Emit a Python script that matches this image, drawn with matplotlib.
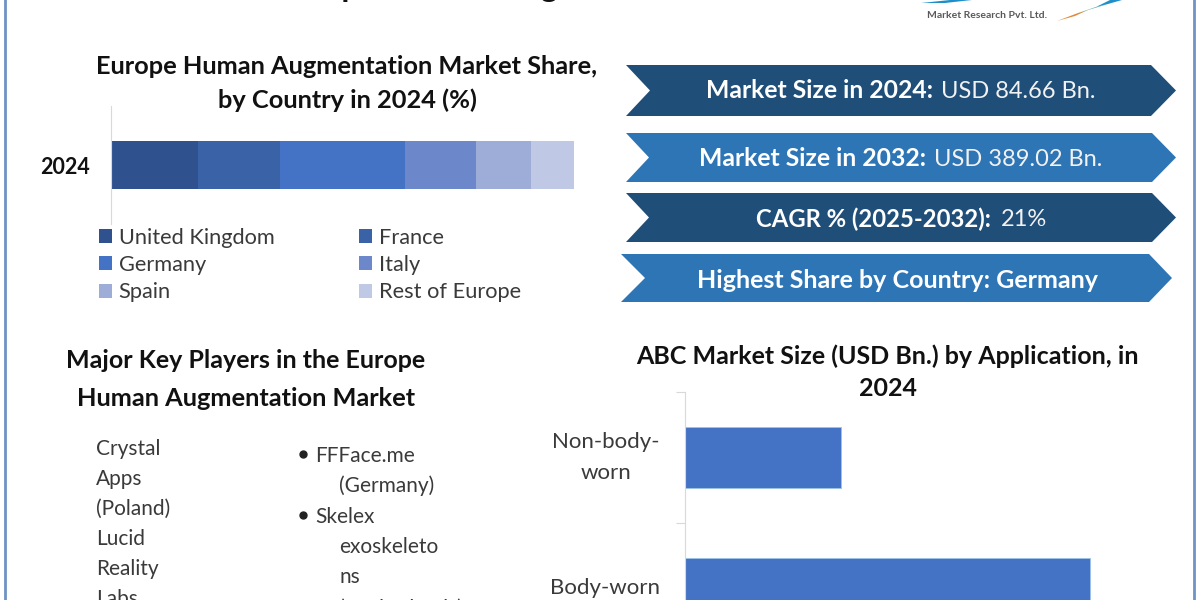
import matplotlib
matplotlib.use("Agg")
import matplotlib.pyplot as plt
from matplotlib.patches import Polygon

plt.rcParams["font.family"] = ["Lato", "DejaVu Sans"]

countries = ["United Kingdom", "France", "Germany", "Italy", "Spain", "Rest of Europe"]
country_share = [18.7, 17.8, 27.0, 15.3, 11.9, 9.3]
country_colors = ["#2F528F", "#3A62A7", "#4472C4", "#6D88CA", "#9EADD8", "#BFC8E4"]
share_year = ["2024"]

applications = ["Non-body-\nworn", "Body-worn"]
application_size = [23.54, 61.12]

banner_bold = ["Market Size in 2024:", "Market Size in 2032:", "CAGR % (2025-2032):",
               "Highest Share by Country: Germany"]
banner_plain = ["USD 84.66 Bn.", "USD 389.02 Bn.", "21%", ""]

players_left = ["Crystal", "Apps", "(Poland)", "Lucid", "Reality", "Labs"]
players_right = ["FFFace.me", "(Germany)", "Skelex", "exoskeleto", "ns", "(Netherlands)"]

DARK = "#1F4E79"
LIGHT = "#2E75B6"
INK = "#111111"
BODY = "#3A3A3A"
AXIS = "#D9D9D9"

W, H = 1200, 600
fig = plt.figure(figsize=(12, 6), dpi=100, facecolor="white")


def axes_px(left, top, right, bottom):
    return fig.add_axes([left / W, (H - bottom) / H, (right - left) / W, (bottom - top) / H])


# page layer, in pixels from the top left corner
page = axes_px(0, 0, W, H)
page.set_xlim(0, W)
page.set_ylim(H, 0)
page.axis("off")

page.plot([5, 5], [0, 600], color="#6F93C4", lw=2)
page.plot([1193.5, 1193.5], [0, 600], color="#6F93C4", lw=2)

# title and logo are cut off by the top edge
page.text(548, -2.5, "Europe Human Augmentation Market", fontsize=23.6, fontweight="bold",
          color=INK, ha="center", va="baseline")
page.text(987, 15.5, "Market Research Pvt. Ltd.", fontsize=7.5, color="#595959",
          fontweight="bold", ha="center", va="center")
page.add_patch(Polygon([(921, 3), (945, 3), (972, 0), (950, 0)], color="#1F8FC9", lw=0))
page.add_patch(Polygon([(1057, 21), (1075, 16), (1088, 10), (1078, 13)], color="#E08A3C", lw=0))
page.add_patch(Polygon([(1078, 13), (1088, 10), (1108, 4), (1096, 7)], color="#3BA89A", lw=0))
page.add_patch(Polygon([(1096, 7), (1108, 4), (1122, 0), (1110, 0)], color="#1F8FC9", lw=0))

# chevron banners
banners = [
    (626, 650, 1151, 1176, 65, 116, DARK, 706, 941, 91, 17.8),
    (626, 649, 1152, 1176, 133, 182, LIGHT, 699, 934, 159, 17.8),
    (626, 649, 1152, 1176, 193, 242, DARK, 756, 1001, 219, 17.2),
    (621, 645, 1149, 1172, 254, 302, LIGHT, 697, 0, 280, 18),
]
for (x0, notch, shoulder, tip, top, bottom, color, bold_x, plain_x, text_y, size), bold, plain in zip(
        banners, banner_bold, banner_plain):
    mid = (top + bottom) / 2
    page.add_patch(Polygon([(x0, top), (shoulder, top), (tip, mid), (shoulder, bottom),
                            (x0, bottom), (notch, mid)], color=color, lw=0))
    page.text(bold_x, text_y, bold, fontsize=size, fontweight="bold", color="white",
              ha="left", va="center")
    if plain:
        page.text(plain_x, text_y, plain, fontsize=17, color="#F2F2F2", ha="left", va="center")

# section titles
page.text(347, 67, "Europe Human Augmentation Market Share,", fontsize=18.3, fontweight="bold",
          color=INK, ha="center", va="center")
page.text(347, 100, "by Country in 2024 (%)", fontsize=18.3, fontweight="bold",
          color=INK, ha="center", va="center")
page.text(246, 360, "Major Key Players in the Europe", fontsize=18, fontweight="bold",
          color=INK, ha="center", va="center")
page.text(246, 399, "Human Augmentation Market", fontsize=18.3, fontweight="bold",
          color=INK, ha="center", va="center")
page.text(887, 356, "ABC Market Size (USD Bn.) by Application, in", fontsize=18, fontweight="bold",
          color=INK, ha="center", va="center")
page.text(888, 389, "2024", fontsize=18, fontweight="bold", color=INK, ha="center", va="center")

# key players
for name, y in zip(players_left, [449, 479, 509, 539, 569, 599]):
    page.text(96, y, name, fontsize=15, color=BODY, ha="left", va="center")
for name, y, x in zip(players_right, [456, 486, 517, 547, 577, 609],
                      [315, 339.5, 315, 339.5, 339.5, 339.5]):
    page.text(x, y, name, fontsize=15, color=BODY, ha="left", va="center")
page.plot([303, 303], [454, 515], ls="none", marker="o", ms=5, color="#222222")

# stacked share bar
ax = axes_px(111, 106, 574, 224)
left = 0
bars = []
for name, share, color in zip(countries, country_share, country_colors):
    bars.append(ax.barh(share_year, share, left=left, height=0.407, color=color, label=name))
    left += share
ax.set_xlim(0, 100)
ax.set_ylim(-0.5, 0.5)
ax.xaxis.set_visible(False)
for side in ["top", "right", "bottom"]:
    ax.spines[side].set_visible(False)
ax.spines["left"].set_color(AXIS)
ax.patch.set_alpha(0)
ax.tick_params(axis="y", length=0, pad=15, labelsize=15.5, labelcolor=INK)
for label in ax.get_yticklabels():
    label.set_fontweight("bold")

order = [0, 2, 4, 1, 3, 5]
ax.legend([bars[i] for i in order], [countries[i] for i in order], ncols=2, frameon=False,
          loc="upper left", bbox_to_anchor=(-0.026, -0.032), fontsize=15.7, labelcolor=BODY,
          handlelength=0.6, handleheight=0.6, handletextpad=0.3, labelspacing=0.335,
          columnspacing=3.9, borderpad=0, borderaxespad=0)

# application bar, runs past the bottom edge of the picture
scale = 6.626
ax2 = axes_px(685, 392, 685 + 70 * scale, 654)
ax2.barh([0, 1], application_size, height=0.47, color="#4472C4", edgecolor="#9DC3E6", linewidth=0.6)
ax2.set_xlim(0, 70)
ax2.set_ylim(1.5, -0.5)
ax2.xaxis.set_visible(False)
for side in ["top", "right", "bottom"]:
    ax2.spines[side].set_visible(False)
ax2.spines["left"].set_color(AXIS)
ax2.patch.set_alpha(0)
ax2.set_yticks([-0.5, 0.5, 1.5])
ax2.set_yticklabels([])
ax2.set_yticks([0, 1], labels=applications, minor=True, multialignment="center", linespacing=1.7,
               va="center")
ax2.tick_params(axis="y", which="major", length=6.5, color=AXIS)
ax2.tick_params(axis="y", which="minor", length=0, pad=18, labelsize=16, labelcolor=BODY)

fig.savefig("out.png", dpi=100)
